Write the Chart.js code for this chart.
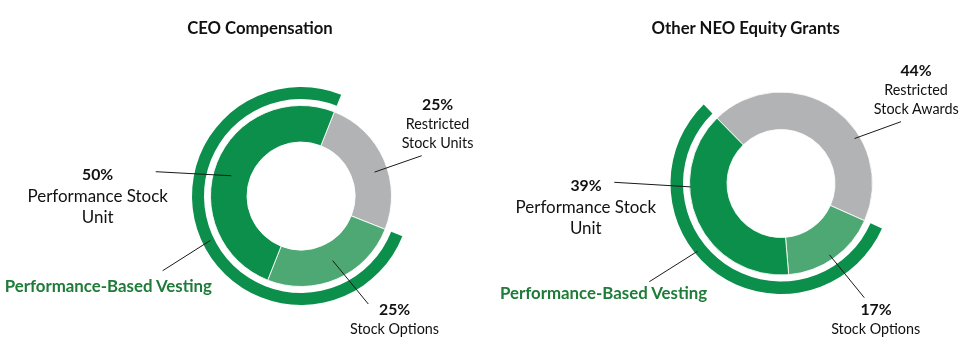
<!DOCTYPE html>
<html>
<head>
<meta charset="utf-8">
<script src="https://cdn.jsdelivr.net/npm/chart.js@4.4.1/dist/chart.umd.min.js"></script>
<style>
  html, body { margin: 0; padding: 0; background: #ffffff; }
  #stage { position: relative; width: 971px; height: 354px; overflow: hidden; background: #fff; font-family: Lato, "Open Sans", sans-serif; }
  canvas { position: absolute; top: 0; }
  .t { position: absolute; white-space: nowrap; line-height: 1; transform: translate(-50%, -50%); color: #111; }
</style>
</head>
<body>
<div id="stage">
  <canvas id="ceo" width="485" height="354" style="left:0px"></canvas>
  <canvas id="neo" width="485" height="354" style="left:486px"></canvas>
</div>
<script>
// ---------- DATA ----------
const chartTitles = ['CEO Compensation', 'Other NEO Equity Grants'];
const ceoCategories = ['Restricted Stock Units', 'Stock Options', 'Performance Stock Unit'];
const ceoValues = [25, 25, 50];
const neoCategories = ['Restricted Stock Awards', 'Stock Options', 'Performance Stock Unit'];
const neoValues = [44, 17, 39];
const vestingLabel = 'Performance-Based Vesting';
const ceoVesting = [25, 75];   // [non-performance, performance-based]
const neoVesting = [44, 56];

// ---------- STYLE ----------
const GRAY = '#b2b3b5', LIGHT = '#4ea873', DARK = '#0b8f4b', VEST_TEXT = '#1e7b38';

// font fitting (Calibri-like sizes emulated with Lato)
const mctx = document.createElement('canvas').getContext('2d');
function fit(text, weight, target) {
  mctx.font = weight + ' 100px Lato';
  return 1.04 * 100 * target / mctx.measureText(text).width;
}
const SZ = {
  title: fit('CEO Compensation', 'bold', 140),
  pct: fit('50%', 'bold', 30),
  big: fit('Performance Stock', 'normal', 135),
  small: fit('Stock Options', 'normal', 85.7),
  vest: fit(vestingLabel, 'bold', 200)
};

const stage = document.getElementById('stage');
function addText(txt, x, y, size, bold, color) {
  const d = document.createElement('div');
  d.className = 't';
  d.textContent = txt;
  d.style.left = x + 'px';
  d.style.top = y + 'px';
  d.style.fontSize = size.toFixed(2) + 'px';
  d.style.fontWeight = bold ? '700' : '400';
  if (color) d.style.color = color;
  stage.appendChild(d);
}

// leader-line plugin
const leaderPlugin = {
  id: 'leaders',
  afterDatasetsDraw(chart, args, opts) {
    const ctx = chart.ctx;
    ctx.save();
    ctx.strokeStyle = '#1a1a1a';
    ctx.lineWidth = 1;
    (opts.lines || []).forEach(l => {
      const el = chart.getDatasetMeta(l.ds).data[l.idx];
      const p = el.getProps(['x', 'y', 'startAngle', 'endAngle', 'innerRadius', 'outerRadius'], true);
      const a = p.startAngle + l.t * (p.endAngle - p.startAngle);
      const r = p.innerRadius + l.rf * (p.outerRadius - p.innerRadius);
      ctx.beginPath();
      ctx.moveTo(l.x - opts.offsetX, l.y);
      ctx.lineTo(p.x + Math.cos(a) * r, p.y + Math.sin(a) * r);
      ctx.stroke();
    });
    ctx.restore();
  }
};

function makeChart(id, values, vesting, rotation, radius, ring, gap, hole, padding, offsetX, lines) {
  const inner = radius - ring - gap - hole;
  return new Chart(document.getElementById(id), {
    type: 'doughnut',
    data: {
      labels: values.map((_, i) => i),
      datasets: [
        { data: vesting, backgroundColor: ['rgba(0,0,0,0)', DARK], borderWidth: 0, weight: ring },
        { data: [1], backgroundColor: ['rgba(0,0,0,0)'], borderWidth: 0, weight: gap },
        { data: values, backgroundColor: [GRAY, LIGHT, DARK], borderColor: 'rgba(255,255,255,0.85)', borderWidth: 1, weight: inner }
      ]
    },
    options: {
      responsive: false,
      animation: false,
      events: [],
      rotation: rotation,
      radius: radius,
      cutout: (hole / radius * 100) + '%',
      layout: { padding: padding },
      plugins: {
        legend: { display: false },
        tooltip: { enabled: false },
        leaders: { lines: lines, offsetX: offsetX }
      }
    },
    plugins: [leaderPlugin]
  });
}

makeChart('ceo', ceoValues, ceoVesting, 21.6, 109, 12, 6.5, 54,
  { left: 117, right: 0, top: 38, bottom: 0 }, 0, [
    { ds: 2, idx: 2, t: 0.47, rf: 0.51, x: 155.7, y: 171.7 },
    { ds: 2, idx: 0, t: 0.56, rf: 0.64, x: 421.7, y: 155.7 },
    { ds: 2, idx: 1, t: 0.47, rf: 0.49, x: 368.3, y: 304 },
    { ds: 0, idx: 1, t: 0.49, rf: 0.32, x: 162.7, y: 270.7 }
  ]);

makeChart('neo', neoValues, neoVesting, -44.4, 110.5, 12.5, 6.5, 54,
  { left: 105, right: 0, top: 13, bottom: 0 }, 486, [
    { ds: 2, idx: 0, t: 0.65, rf: 0.86, x: 901, y: 121.7 },
    { ds: 2, idx: 1, t: 0.52, rf: 0.86, x: 864.3, y: 297.7 },
    { ds: 2, idx: 2, t: 0.66, rf: 0.97, x: 614.3, y: 182.3 },
    { ds: 0, idx: 1, t: 0.58, rf: 0.75, x: 649.3, y: 281.7 }
  ]);

// ---------- TEXT ----------
addText(chartTitles[0], 260, 28, SZ.title, true);
addText(chartTitles[1], 745.7, 28, SZ.title, true);

// CEO labels
addText(ceoValues[2] + '%', 97.7, 174.3, SZ.pct, true);
addText('Performance Stock', 97.7, 195.7, SZ.big, false);
addText('Unit', 97.7, 216.7, SZ.big, false);
addText(ceoValues[0] + '%', 437.7, 104.3, SZ.pct, true);
addText('Restricted', 437.5, 124, SZ.small, false);
addText('Stock Units', 437.5, 143.3, SZ.small, false);
addText(ceoValues[1] + '%', 394.7, 309.3, SZ.pct, true);
addText(ceoCategories[1], 394.5, 329.3, SZ.small, false);
addText(vestingLabel, 108.3, 285.7, SZ.vest, true, VEST_TEXT);

// NEO labels
addText(neoValues[0] + '%', 916, 70, SZ.pct, true);
addText('Restricted', 916, 90, SZ.small, false);
addText('Stock Awards', 916.3, 109.3, SZ.small, false);
addText(neoValues[2] + '%', 586, 185, SZ.pct, true);
addText('Performance Stock', 585.8, 206.7, SZ.big, false);
addText('Unit', 585.8, 227.7, SZ.big, false);
addText(neoValues[1] + '%', 876, 309.3, SZ.pct, true);
addText(neoCategories[1], 875.7, 329.3, SZ.small, false);
addText(vestingLabel, 603.5, 293.3, SZ.vest, true, VEST_TEXT);
</script>
</body>
</html>
